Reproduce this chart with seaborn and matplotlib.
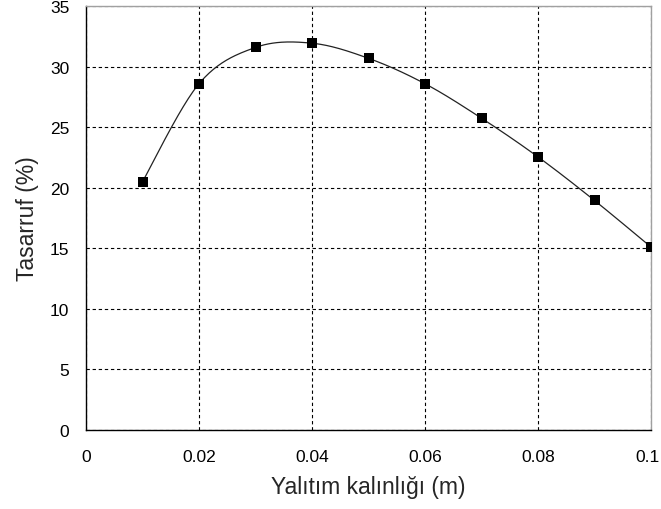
import numpy as np
import pandas as pd
import matplotlib
matplotlib.use("Agg")
import matplotlib.pyplot as plt
import matplotlib.transforms as mtransforms
import seaborn as sns

# Data
thickness = [0.01, 0.02, 0.03, 0.04, 0.05, 0.06, 0.07, 0.08, 0.09, 0.10]
savings = [20.5, 28.6, 31.6, 31.95, 30.7, 28.6, 25.75, 22.55, 18.95, 15.1]
x_ticks = [0, 0.02, 0.04, 0.06, 0.08, 0.1]
x_tick_labels = ["0", "0.02", "0.04", "0.06", "0.08", "0.1"]
y_ticks = [0, 5, 10, 15, 20, 25, 30, 35]
x_label = "Yalıtım kalınlığı (m)"
y_label = "Tasarruf (%)"


def excel_smooth(xs, ys, n=40):
    """Excel-like smoothed line: cubic Bezier segments with Catmull-Rom control points."""
    P = np.column_stack([xs, ys]).astype(float)
    m = len(P)
    out = []
    t = np.linspace(0, 1, n)[:, None]
    for i in range(m - 1):
        p0 = P[i]
        p3 = P[i + 1]
        pm = P[i - 1] if i > 0 else P[i]
        pp = P[i + 2] if i + 2 < m else P[i + 1]
        c1 = p0 + (p3 - pm) / 6.0
        c2 = p3 - (pp - p0) / 6.0
        seg = ((1 - t) ** 3) * p0 + 3 * ((1 - t) ** 2) * t * c1 + 3 * (1 - t) * t ** 2 * c2 + t ** 3 * p3
        if i > 0:
            seg = seg[1:]
        out.append(seg)
    return np.vstack(out)


sns.set_style("white")
plt.rcParams["font.family"] = ["Liberation Sans", "DejaVu Sans"]

W, H = 661, 510
fig = plt.figure(figsize=(W / 100, H / 100), dpi=100)
left, right, top, bottom = 86, 651, 7.3, 430.7
ax = fig.add_axes([left / W, 1 - bottom / H, (right - left) / W, (bottom - top) / H])

curve = excel_smooth(thickness, savings)
df_curve = pd.DataFrame({"x": curve[:, 0], "y": curve[:, 1]})
df_pts = pd.DataFrame({"x": thickness, "y": savings})

sns.lineplot(data=df_curve, x="x", y="y", ax=ax, color="#222222", linewidth=0.9,
             sort=False, estimator=None, zorder=3)
sns.scatterplot(data=df_pts, x="x", y="y", ax=ax, marker="s", s=52, color="black",
                edgecolor="black", linewidth=0, zorder=4)

ax.set_xlim(0, 0.1)
ax.set_ylim(0, 35)
ax.set_xticks(x_ticks)
ax.set_xticklabels(x_tick_labels)
ax.set_yticks(y_ticks)

ax.grid(True, color="black", linestyle=(0, (3, 2.5)), linewidth=0.8)
ax.set_axisbelow(True)

for side in ["left", "bottom"]:
    ax.spines[side].set_color("black")
    ax.spines[side].set_linewidth(1.0)
for side in ["top", "right"]:
    ax.spines[side].set_visible(True)
    ax.spines[side].set_color("#a0a0a0")
    ax.spines[side].set_linewidth(1.0)

ax.tick_params(axis="both", direction="out", length=5, width=0.9, color="black",
               labelsize=12.5, labelcolor="black")
ax.tick_params(axis="x", pad=9)
ax.tick_params(axis="y", pad=7)

# nudge the last x tick label slightly left so it stays inside the figure
last = ax.get_xticklabels()[-1]
last.set_transform(last.get_transform() + mtransforms.ScaledTranslation(-4 / 100, 0, fig.dpi_scale_trans))

ax.set_xlabel(x_label, fontsize=16.5, labelpad=8)
ax.set_ylabel(y_label, fontsize=16.5, labelpad=8)

fig.savefig("out.png", dpi=100, facecolor="white")
